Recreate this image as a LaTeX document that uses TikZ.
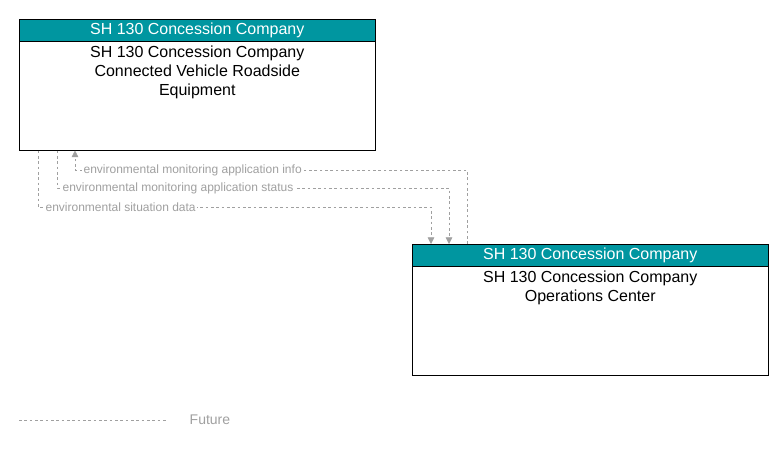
\documentclass[tikz,border=0pt]{standalone}
\usepackage{fontspec}
\setmainfont{Liberation Sans}
\usetikzlibrary{positioning,arrows.meta}
\definecolor{headteal}{RGB}{0,150,160}
\definecolor{flowgray}{RGB}{160,160,160}
\tikzset{
  elembox/.style={draw,minimum width=267pt,minimum height=98.25pt,anchor=north west,inner sep=0pt},
  headbox/.style={draw,fill=headteal,text=white,minimum width=267pt,minimum height=16.5pt,anchor=north west,inner sep=0pt,font=\fontsize{12}{14}\selectfont},
  flow/.style={draw=flowgray,dashed,dash pattern=on 2pt off 2pt},
  flowlabel/.style={text=flowgray,font=\fontsize{9}{11}\selectfont,fill=white,inner sep=1pt}
}
\begin{document}
\begin{tikzpicture}[x=0.75pt,y=-0.75pt]
\useasboundingbox (0,0) rectangle (783,449);
% elements
\node[elembox] (rse) at (19,19) {};
\node[headbox] (rsehead) at (19,19) {SH 130 Concession Company};
\node[below=0pt of rsehead,align=center,font=\fontsize{12}{14}\selectfont] {SH 130 Concession Company\\Connected Vehicle Roadside\\Equipment};
\node[elembox] (ops) at (412,244) {};
\node[headbox] (opshead) at (412,244) {SH 130 Concession Company};
\node[below=0pt of opshead,align=center,font=\fontsize{12}{14}\selectfont] {SH 130 Concession Company\\Operations Center};
% flows
\coordinate (a1) at (467,170);
\coordinate (a2) at (75,170);
\draw[flow,-{Triangle[length=5pt,width=5pt]}] (ops.north west -| 467,0) -- (a1) -- (a2) -- (rse.south west -| a2);
\node[flowlabel,anchor=west] at (82,170) {environmental monitoring application info};
\coordinate (b1) at (57,188);
\coordinate (b2) at (449,188);
\draw[flow,-{Triangle[length=5pt,width=5pt]}] (rse.south west -| b1) -- (b1) -- (b2) -- (ops.north west -| b2);
\node[flowlabel,anchor=west] at (61,188) {environmental monitoring application status};
\coordinate (c1) at (38,207);
\coordinate (c2) at (431,207);
\draw[flow,-{Triangle[length=5pt,width=5pt]}] (rse.south west -| c1) -- (c1) -- (c2) -- (ops.north west -| c2);
\node[flowlabel,anchor=west] at (44,207) {environmental situation data};
% legend
\coordinate (l1) at (19,420);
\coordinate (l2) at (166,420);
\draw[flow] (l1) -- (l2);
\node[text=flowgray,anchor=west,font=\fontsize{10.5}{12}\selectfont] (future) at (185,420) {Future};
\end{tikzpicture}
\end{document}
